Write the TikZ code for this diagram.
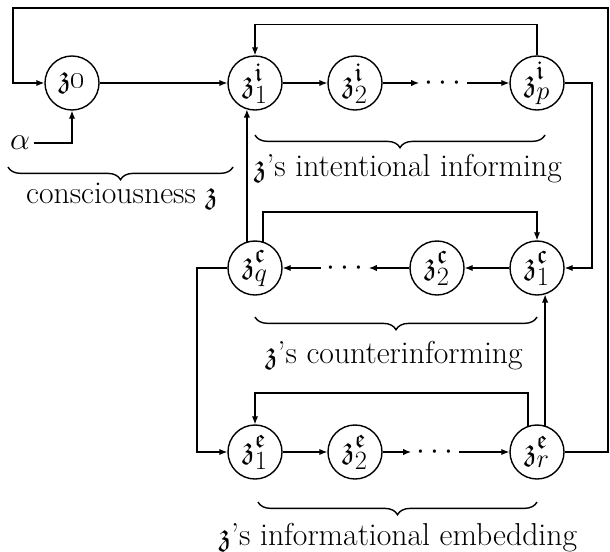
\documentclass[tikz,border=0pt]{standalone}
\usepackage{amssymb}
\usetikzlibrary{arrows.meta,decorations.pathreplacing}
\newcommand{\fz}{\mathfrak{z}}
\begin{document}
\begin{tikzpicture}[x=0.785pt,y=-0.785pt,
  every node/.style={font=\Huge},
  zn/.style={circle,draw,line width=1.1pt,minimum size=42.4pt,inner sep=0pt},
  ln/.style={line width=1pt},
  ar/.style={ln,-{Latex[length=6.3pt,width=5pt]}},
  br/.style={line width=1.1pt,decorate,decoration={brace,amplitude=10pt}},
  dotn/.style={inner sep=4pt,minimum height=18pt},
  lab/.style={inner sep=0pt}]
\path[use as bounding box] (0,0) rectangle (610,551);
% row 1
\node[zn] (z0) at (72,83) {$\fz$\oldstylenums{0}};
\node[zn] (i1) at (255,83) {$\fz_1^{\mathfrak{i}}$};
\node[zn] (i2) at (355,83) {$\fz_2^{\mathfrak{i}}$};
\node[dotn] (di) at (443,83) {$\cdots$};
\node[zn] (ip) at (537,83) {$\fz_p^{\mathfrak{i}}$};
\node[inner sep=3pt] (alpha) at (20,143) {$\alpha$};
% row 2
\node[zn] (cq) at (255,268) {$\fz_q^{\mathfrak{c}}$};
\node[dotn] (dc) at (345,268) {$\cdots$};
\node[zn] (c2) at (437,268) {$\fz_2^{\mathfrak{c}}$};
\node[zn] (c1) at (537,268) {$\fz_1^{\mathfrak{c}}$};
% row 3
\node[zn] (e1) at (255,452) {$\fz_1^{\mathfrak{e}}$};
\node[zn] (e2) at (355,452) {$\fz_2^{\mathfrak{e}}$};
\node[dotn] (de) at (435,452) {$\cdots$};
\node[zn] (er) at (537,452) {$\fz_r^{\mathfrak{e}}$};
% labels
\node[lab] (l0) at (122,196) {consciousness $\fz$};
\node[lab] (l1) at (408,169) {$\fz$'s intentional informing};
\node[lab] (l2) at (394,356) {$\fz$'s counterinforming};
\node[lab] (l3) at (398,538) {$\fz$'s informational embedding};
% braces
\draw[br] (233,167) -- (8,167);
\draw[br] (545,135) -- (255,135);
\draw[br] (537,317) -- (255,317);
\draw[br] (537,502) -- (258,502);
% row 1 connectors
\draw[ar] (z0) -- (i1);
\draw[ar] (i1) -- (i2);
\draw[ar] (i2) -- (di);
\draw[ar] (di) -- (ip);
\draw[ar] (ip.north) -- ++(0,-31) -| (i1.north);
\draw[ar] (alpha.east) -| (z0.south);
\draw[ar] (ip.east) -- (592,83) |- (c1.east);
% row 2 connectors
\draw[ar] (c1) -- (c2);
\draw[ar] (c2) -- (dc);
\draw[ar] (dc) -- (cq);
\draw[ar] (cq.73) -- (cq.73 |- 0,212) -| (c1.north);
\draw[ar] (cq.107) -- (i1.253);
\draw[ar] (cq.west) -- (197,268) |- (e1.west);
% row 3 connectors
\draw[ar] (e1) -- (e2);
\draw[ar] (e2) -- (de);
\draw[ar] (de) -- (er);
\draw[ar] (er.109) -- (er.109 |- 0,393) -| (e1.north);
\draw[ar] (er.73) -- (c1.287);
\draw[ar] (er.east) -- (608,452) -- (608,8) -- (13,8) |- (z0.west);
\end{tikzpicture}
\end{document}
